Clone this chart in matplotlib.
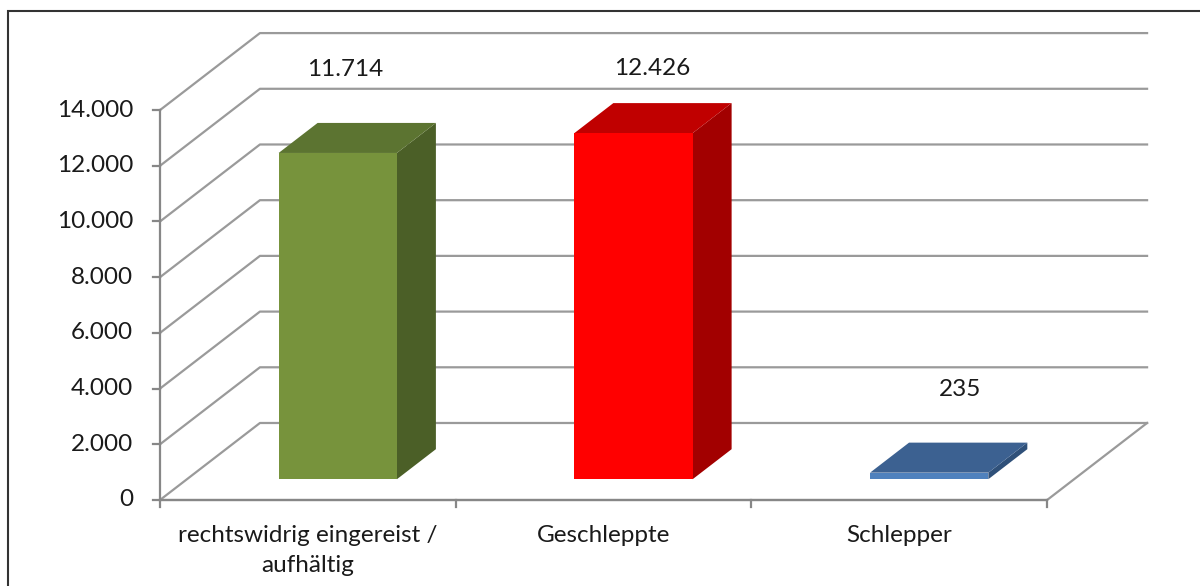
import numpy as np
import matplotlib.pyplot as plt
from matplotlib.patches import Polygon, Rectangle

plt.rcParams['font.family'] = ['Lato', 'DejaVu Sans']

# data
categories = ['rechtswidrig eingereist /\naufhältig', 'Geschleppte', 'Schlepper']
values = [11714, 12426, 235]
value_labels = ['11.714', '12.426', '235']
y_ticks = [0, 2000, 4000, 6000, 8000, 10000, 12000, 14000]
y_tick_labels = ['0', '2.000', '4.000', '6.000', '8.000', '10.000', '12.000', '14.000']

front_colors = ['#77933C', '#FF0000', '#4F81BD']
top_colors = ['#5C7431', '#C00000', '#3C6191']
side_colors = ['#4B5F27', '#A20000', '#2F5079']

# oblique depth of the floor/walls in data units (x: categories, y: value)
DX, DY = 0.338, 2765
D0, D1 = 0.27, 0.66      # bar depth range
BAR_W = 0.40
FS = 17.5
grid_c = '#9A9A9A'
axis_c = '#878787'
text_c = '#1a1a1a'

fig = plt.figure(figsize=(12, 5.86), dpi=100)
ax = fig.add_axes([0, 0, 1, 1])
ax.set_xlim(-0.541, 3.517)
ax.set_ylim(-3088, 17953)
ax.axis('off')


def pt(x, v, d):
    return (x + d * DX, v + d * DY)


n = len(categories)
top = y_ticks[-1]

# walls: diagonal on the side wall plus horizontal line on the back wall
for v in y_ticks:
    xs, ys = zip(pt(0, v, 0), pt(0, v, 1), pt(n, v, 1))
    ax.plot(xs, ys, color=grid_c, lw=1.6, zorder=1)

# floor front and right edges
xs, ys = zip(pt(0, 0, 0), pt(n, 0, 0), pt(n, 0, 1))
ax.plot(xs, ys, color=grid_c, lw=1.6, zorder=1)

# value axis with ticks
ax.plot([0, 0], [0, top], color=axis_c, lw=1.6, zorder=2)
for v, lab in zip(y_ticks, y_tick_labels):
    ax.plot([-0.025, 0], [v, v], color=axis_c, lw=1.6, zorder=2)
    ax.text(-0.09, v, lab, ha='right', va='center', fontsize=FS, color=text_c)

# category axis with ticks
ax.plot([0, n], [0, 0], color=axis_c, lw=1.6, zorder=2)
for i in range(n + 1):
    ax.plot([i, i], [0, -250], color=axis_c, lw=1.6, zorder=2)

for i, (cat, v) in enumerate(zip(categories, values)):
    x0 = i + 0.51 - BAR_W / 2
    x1 = x0 + BAR_W
    # side face
    ax.add_patch(Polygon([pt(x1, 0, D0), pt(x1, v, D0), pt(x1, v, D1), pt(x1, 0, D1)],
                         closed=True, facecolor=side_colors[i], edgecolor='none', zorder=3))
    # top face
    ax.add_patch(Polygon([pt(x0, v, D0), pt(x1, v, D0), pt(x1, v, D1), pt(x0, v, D1)],
                         closed=True, facecolor=top_colors[i], edgecolor='none', zorder=3))
    # front face
    ax.add_patch(Polygon([pt(x0, 0, D0), pt(x1, 0, D0), pt(x1, v, D0), pt(x0, v, D0)],
                         closed=True, facecolor=front_colors[i], edgecolor='none', zorder=4))
    # value label above the bar
    ax.text(i + 0.5 + 0.125 + 0.04 * i, min(v + 3750, 15480), value_labels[i],
            ha='center', va='center', fontsize=FS, color=text_c, zorder=5)
    ax.text(i + 0.5, -900, cat, ha='center', va='top', fontsize=FS,
            color=text_c, linespacing=1.5)

# chart frame
fig.patches.append(Rectangle((8 / 1200, -0.02), 1.02, 1 - 11 / 586 + 0.02,
                             transform=fig.transFigure, fill=False,
                             edgecolor='#333333', lw=1.5))

fig.savefig('out.png', dpi=100)
